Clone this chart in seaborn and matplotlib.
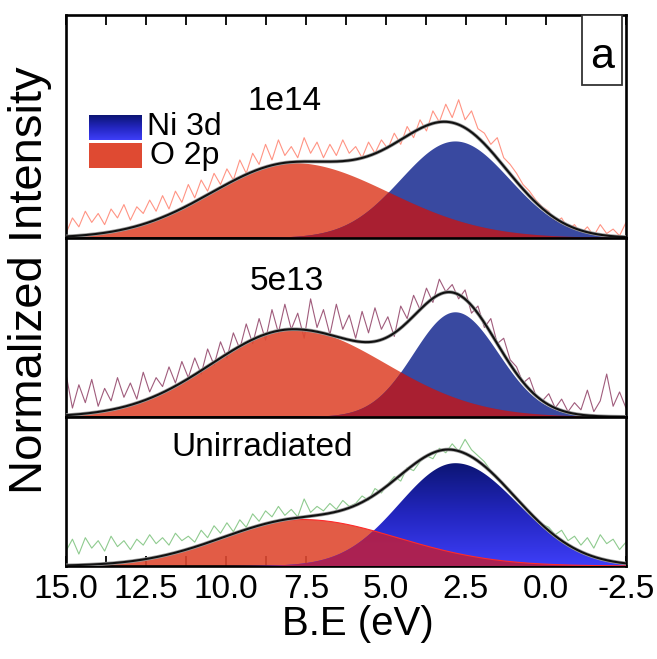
import numpy as np
import matplotlib
matplotlib.use("Agg")
import matplotlib.pyplot as plt
import seaborn as sns
from matplotlib.colors import LinearSegmentedColormap
from matplotlib.patches import Rectangle
from matplotlib.ticker import MultipleLocator, FixedLocator

sns.set_theme(style="white")
plt.rcParams["font.family"] = ["Liberation Sans", "DejaVu Sans"]

# ---------------- data ----------------
panel_labels = ["1e14", "5e13", "Unirradiated"]
component_names = ["Ni 3d", "O 2p"]
x_ticks = [15.0, 12.5, 10.0, 7.5, 5.0, 2.5, 0.0, -2.5]
x_tick_labels = ["15.0", "12.5", "10.0", "7.5", "5.0", "2.5", "0.0", "-2.5"]

# fitted components (centre eV, amplitude, sigma on high-BE side, sigma on low-BE side)
o2p_center = [7.9, 7.9, 7.63]
o2p_amp = [0.336, 0.49, 0.312]
o2p_sig_hi = [2.55, 2.55, 2.5]
o2p_sig_lo = [3.0, 2.9, 3.0]
ni3d_center = [2.83, 2.83, 2.83]
ni3d_amp = [0.433, 0.585, 0.69]
ni3d_sig_hi = [1.7, 1.3, 1.75]
ni3d_sig_lo = [1.7, 1.35, 1.95]

# measured spectra, from 15.0 eV down to -2.5 eV
spec_1e14 = [0.02, 0.09, 0.05, 0.12, 0.07,
             0.11, 0.06, 0.13, 0.09, 0.15,
             0.08, 0.14, 0.11, 0.17, 0.12,
             0.19, 0.13, 0.21, 0.16, 0.24,
             0.18, 0.26, 0.21, 0.29, 0.24,
             0.31, 0.26, 0.35, 0.29, 0.38,
             0.33, 0.42, 0.35, 0.44, 0.37,
             0.41, 0.36, 0.45, 0.38, 0.43,
             0.36, 0.42, 0.37, 0.44, 0.38,
             0.41, 0.36, 0.43, 0.38, 0.44,
             0.40, 0.47, 0.42, 0.50, 0.45,
             0.53, 0.48, 0.57, 0.52, 0.60,
             0.54, 0.62, 0.53, 0.57, 0.49,
             0.47, 0.42, 0.45, 0.36, 0.33,
             0.29, 0.24, 0.21, 0.17, 0.14,
             0.12, 0.07, 0.09, 0.04, 0.06,
             0.02, 0.05, 0.01, 0.06, 0.02,
             0.04, 0.01, 0.07]
spec_5e13 = [0.24, 0.05, 0.18, 0.08, 0.21,
             0.06, 0.16, 0.09, 0.22, 0.11,
             0.19, 0.10, 0.25, 0.14, 0.22,
             0.17, 0.28, 0.19, 0.31, 0.22,
             0.33, 0.24, 0.38, 0.29, 0.42,
             0.33, 0.47, 0.38, 0.52, 0.41,
             0.55, 0.43, 0.60, 0.47, 0.63,
             0.49, 0.58, 0.44, 0.66, 0.50,
             0.60, 0.46, 0.63, 0.49, 0.57,
             0.44, 0.59, 0.47, 0.61, 0.49,
             0.56, 0.45, 0.62, 0.55, 0.68,
             0.60, 0.72, 0.64, 0.77, 0.70,
             0.74, 0.66, 0.71, 0.58, 0.62,
             0.50, 0.55, 0.41, 0.44, 0.32,
             0.28, 0.19, 0.22, 0.12, 0.09,
             0.13, 0.05, 0.10, 0.03, 0.08,
             0.04, 0.15, 0.03, 0.09, 0.24,
             0.06, 0.14, 0.05]
spec_unirr = [0.10, 0.18, 0.08, 0.19, 0.12,
              0.17, 0.10, 0.20, 0.13, 0.17,
              0.11, 0.18, 0.14, 0.21, 0.15,
              0.19, 0.14, 0.22, 0.17, 0.20,
              0.16, 0.24, 0.19, 0.27, 0.22,
              0.29, 0.23, 0.31, 0.26, 0.35,
              0.30, 0.37, 0.33, 0.40, 0.34,
              0.38, 0.33, 0.45, 0.36, 0.40,
              0.37, 0.42, 0.38, 0.44, 0.40,
              0.42, 0.47, 0.44, 0.52, 0.49,
              0.55, 0.60, 0.57, 0.66, 0.64,
              0.70, 0.74, 0.72, 0.79, 0.76,
              0.82, 0.77, 0.85, 0.78, 0.74,
              0.70, 0.64, 0.60, 0.55, 0.51,
              0.45, 0.41, 0.35, 0.31, 0.28,
              0.26, 0.21, 0.24, 0.17, 0.20,
              0.14, 0.19, 0.12, 0.21, 0.15,
              0.18, 0.11, 0.16]
spectra = [spec_1e14, spec_5e13, spec_unirr]
spec_colors = ["#FF9484", "#A05C7C", "#8FCB8F"]

# ---------------- styling ----------------
red = "#DF4A32"
overlap_flat = "#B01E2C"
overlap_grad = "#B2204A"
blue_flat = "#2E3F9B"
blue_cmap = LinearSegmentedColormap.from_list("nib", ["#3E3EF8", "#2326C0", "#0C1574"])

fig = plt.figure(figsize=(6.57, 6.59), dpi=100)
W, H = 657.0, 659.0
left_px, right_px = 66, 626
bounds = [(15, 238), (238, 417), (417, 566)]
axes = []
for (t, b) in bounds:
    ax = fig.add_axes([left_px / W, 1 - b / H, (right_px - left_px) / W, (b - t) / H])
    axes.append(ax)

def split_gauss(x, c, a, s_hi, s_lo):
    s = np.where(x >= c, s_hi, s_lo)
    return a * np.exp(-(x - c) ** 2 / (2 * s ** 2))

xf = np.linspace(15, -2.5, 600)
for i, ax in enumerate(axes):
    xs = np.linspace(15, -2.5, len(spectra[i]))
    sns.lineplot(x=xs, y=spectra[i], ax=ax, color=spec_colors[i], lw=0.8, zorder=1)
    R = split_gauss(xf, o2p_center[i], o2p_amp[i], o2p_sig_hi[i], o2p_sig_lo[i])
    B = split_gauss(xf, ni3d_center[i], ni3d_amp[i], ni3d_sig_hi[i], ni3d_sig_lo[i])
    ax.fill_between(xf, 0, R, facecolor=red, edgecolor="none", alpha=0.9, zorder=2)
    if i < 2:
        ax.fill_between(xf, 0, B, facecolor=blue_flat, edgecolor="none", alpha=0.95, zorder=3)
        ax.fill_between(xf, 0, np.minimum(R, B), facecolor=overlap_flat, edgecolor="none",
                        alpha=0.95, zorder=4)
    else:
        poly = ax.fill_between(xf, 0, B, facecolor="none", edgecolor="none", zorder=3)
        grad = np.linspace(0, 1, 256)[:, None]
        im = ax.imshow(grad, extent=[15, -2.5, 0, ni3d_amp[i]], origin="lower",
                       aspect="auto", cmap=blue_cmap, zorder=3)
        im.set_clip_path(poly.get_paths()[0], transform=ax.transData)
        ax.fill_between(xf, 0, np.minimum(R, B), facecolor=overlap_grad, edgecolor="none",
                        alpha=0.95, zorder=4)
        sns.lineplot(x=xf, y=R, ax=ax, color="#FF2A2A", lw=0.8, zorder=4.5)
    sns.lineplot(x=xf, y=R + B, ax=ax, color="#9a9a9a", lw=2.6, zorder=5)
    sns.lineplot(x=xf, y=R + B, ax=ax, color="#111111", lw=1.5, zorder=6)

    ax.set_xlim(15, -2.5)
    ax.set_ylim(0, 1)
    ax.set_yticks([])
    ax.set_ylabel("")
    ax.set_xlabel("")
    for sp in ax.spines.values():
        sp.set_visible(True)
        sp.set_color("black")
        sp.set_linewidth(1.9)
    ax.xaxis.set_major_locator(FixedLocator(x_ticks))
    ax.xaxis.set_minor_locator(MultipleLocator(1.25))
    ax.tick_params(axis="x", which="both", direction="in", length=7, width=1.3,
                   color="black", top=(i == 0), bottom=(i == 2),
                   labelbottom=(i == 2), labeltop=False)

axes[2].set_xticks(x_ticks)
axes[2].set_xticklabels(x_tick_labels)
axes[2].tick_params(axis="x", which="major", labelsize=24, pad=6, labelcolor="black")

# panel labels
label_pos = [(0.391, 0.575), (0.395, 0.708), (0.351, 0.735)]
for ax, lab, (px, py) in zip(axes, panel_labels, label_pos):
    ax.text(px, py, lab, transform=ax.transAxes, ha="center", va="baseline",
            fontsize=24, color="black", zorder=10)

# legend with gradient patches
ax0 = axes[0]
lb = ax0.inset_axes([0.041, 0.44, 0.094, 0.112])
lb.imshow(np.linspace(0, 1, 64)[:, None], aspect="auto", cmap=blue_cmap, origin="lower",
          extent=[0, 1, 0, 1])
lr = ax0.inset_axes([0.041, 0.313, 0.094, 0.112])
lr.imshow(np.ones((2, 2)), aspect="auto", cmap=LinearSegmentedColormap.from_list(
    "r", [red, red]), extent=[0, 1, 0, 1])
for a in (lb, lr):
    a.set_xticks([]); a.set_yticks([])
    for sp in a.spines.values():
        sp.set_visible(False)
ax0.text(0.145, 0.496, component_names[0], transform=ax0.transAxes, ha="left",
         va="center", fontsize=23, color="black", zorder=10)
ax0.text(0.150, 0.369, component_names[1], transform=ax0.transAxes, ha="left",
         va="center", fontsize=23, color="black", zorder=10)

# panel letter box
ax0.add_patch(Rectangle((0.921, 0.687), 0.071, 0.313, transform=ax0.transAxes,
                        fill=True, facecolor="white", edgecolor="#333333", lw=1.3, zorder=9))
ax0.text(0.957, 0.81, "a", transform=ax0.transAxes, ha="center", va="center",
         fontsize=31, color="black", zorder=10)

fig.text(358 / W, 1 - 635 / H, "B.E (eV)", ha="center", va="baseline", fontsize=29,
         color="black")
fig.text(30 / W, 1 - 280 / H, "Normalized Intensity", rotation=90,
         ha="center", va="center", fontsize=34, color="black")

fig.savefig("out.png", dpi=100)
